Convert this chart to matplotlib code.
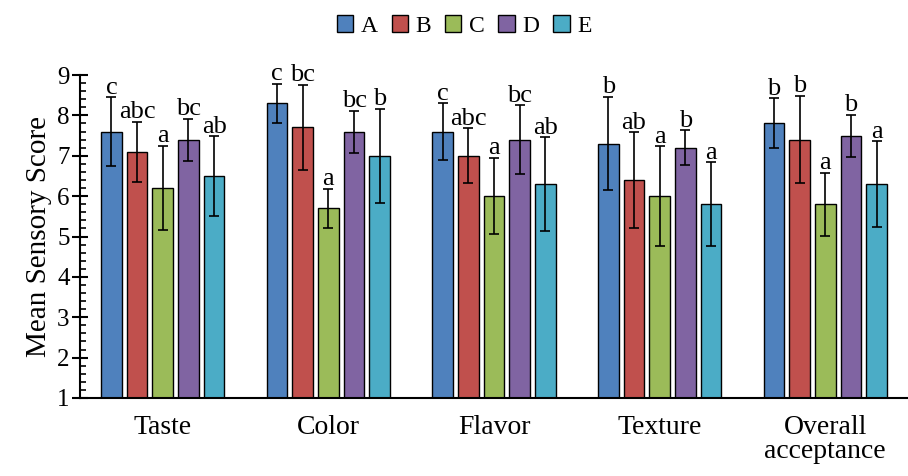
import numpy as np
import matplotlib
matplotlib.use("Agg")
import matplotlib.pyplot as plt

# ==========================================================
# Data
# ==========================================================

categories = ["Taste", "Color", "Flavor", "Texture", "Overall\nacceptance"]
samples = ["A", "B", "C", "D", "E"]

# mean scores per sample (one value per category)
mean_A = [7.6, 8.3, 7.6, 7.3, 7.8]
mean_B = [7.1, 7.7, 7.0, 6.4, 7.4]
mean_C = [6.2, 5.7, 6.0, 6.0, 5.8]
mean_D = [7.4, 7.6, 7.4, 7.2, 7.5]
mean_E = [6.5, 7.0, 6.3, 5.8, 6.3]

# standard deviations
sd_A = [0.85, 0.48, 0.70, 1.16, 0.62]
sd_B = [0.74, 1.06, 0.68, 1.18, 1.08]
sd_C = [1.04, 0.48, 0.95, 1.23, 0.78]
sd_D = [0.52, 0.52, 0.85, 0.43, 0.52]
sd_E = [0.98, 1.16, 1.16, 1.04, 1.06]

# significance letters
sig_A = ["c", "c", "c", "b", "b"]
sig_B = ["abc", "bc", "abc", "ab", "b"]
sig_C = ["a", "a", "a", "a", "a"]
sig_D = ["bc", "bc", "bc", "b", "b"]
sig_E = ["ab", "b", "ab", "a", "a"]

means = [mean_A, mean_B, mean_C, mean_D, mean_E]
sds = [sd_A, sd_B, sd_C, sd_D, sd_E]
sigs = [sig_A, sig_B, sig_C, sig_D, sig_E]
colors = ["#4F81BD", "#C0504D", "#9BBB59", "#8064A2", "#4BACC6"]

# ==========================================================
# Plot
# ==========================================================

plt.rcParams["font.family"] = ["Liberation Serif", "DejaVu Serif"]

fig = plt.figure(figsize=(9.08, 4.76), dpi=100)
ax = fig.add_axes([0.0881, 0.1639, 0.9119, 0.6785])

x = np.arange(len(categories))
pitch = 0.155
width = 0.125

for i, name in enumerate(samples):
    pos = x + (i - 2) * pitch
    ax.bar(
        pos,
        np.array(means[i]) - 1,
        bottom=1,
        width=width,
        color=colors[i],
        edgecolor="black",
        linewidth=1.0,
        label=name,
        zorder=2
    )
    ax.errorbar(
        pos,
        means[i],
        yerr=sds[i],
        fmt="none",
        ecolor="black",
        elinewidth=1.2,
        capsize=3.5,
        capthick=1.2,
        zorder=3
    )
    for xp, m, s, lab in zip(pos, means[i], sds[i], sigs[i]):
        ax.annotate(
            lab,
            (xp, m + s),
            xytext=(0, -1),
            textcoords="offset points",
            ha="center",
            va="bottom",
            fontsize=19,
            zorder=4
        )

ax.set_xlim(-0.5, 4.5)
ax.set_ylim(1, 9)
ax.set_yticks(range(1, 10))
ax.set_yticks(np.arange(1, 9.01, 0.2), minor=True)
ax.tick_params(axis="y", which="major", direction="inout", length=11, width=1.5, labelsize=18, pad=2)
ax.tick_params(axis="y", which="minor", direction="in", length=4, width=1.2)
ax.set_xticks(x)
ax.set_xticklabels(categories, fontsize=20, linespacing=0.95)
ax.tick_params(axis="x", length=0, pad=12)

ax.spines["top"].set_visible(False)
ax.spines["right"].set_visible(False)
ax.spines["left"].set_linewidth(1.5)
ax.spines["bottom"].set_linewidth(1.5)

ax.set_ylabel("Mean Sensory Score", fontsize=21, labelpad=4)

fig.legend(
    loc="center",
    bbox_to_anchor=(464 / 908, 1 - 26 / 476),
    ncol=5,
    frameon=False,
    fontsize=17,
    handlelength=0.7,
    handleheight=0.7,
    handletextpad=0.3,
    columnspacing=0.6,
    borderaxespad=0
)

fig.savefig("out.png", dpi=100)
plt.close(fig)
